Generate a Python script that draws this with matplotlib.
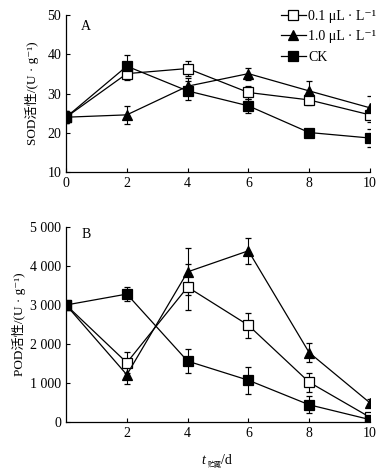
import matplotlib
matplotlib.use("Agg")
import matplotlib.pyplot as plt

plt.rcParams['font.family'] = ['Liberation Serif', 'Noto Sans CJK SC', 'DejaVu Serif']
plt.rcParams['font.size'] = 10

days = [0, 2, 4, 6, 8, 10]

# SOD activity (U/g)
sod_01 = [24.0, 35.1, 36.4, 30.3, 28.4, 24.6]
sod_01_err = [1.5, 1.5, 1.8, 1.7, 1.2, 1.8]
sod_10 = [24.0, 24.6, 31.9, 35.1, 30.7, 26.4]
sod_10_err = [1.5, 2.3, 2.0, 1.5, 2.4, 2.9]
sod_ck = [24.0, 37.0, 30.7, 26.9, 20.1, 18.7]
sod_ck_err = [1.5, 2.8, 2.4, 1.8, 1.0, 2.3]

# POD activity (U/g)
pod_01 = [3000, 1520, 3460, 2480, 1020, 120]
pod_01_err = [50, 270, 600, 320, 240, 50]
pod_10 = [3000, 1210, 3850, 4390, 1780, 490]
pod_10_err = [50, 230, 600, 340, 240, 110]
pod_ck = [3000, 3280, 1560, 1070, 440, 60]
pod_ck_err = [50, 190, 300, 350, 220, 40]

sod_ticks = [10, 20, 30, 40, 50]
pod_ticks = [0, 1000, 2000, 3000, 4000, 5000]
pod_tick_labels = ['0', '1 000', '2 000', '3 000', '4 000', '5 000']
labels = ['0.1 μL · L⁻¹', '1.0 μL · L⁻¹', 'CK']

styles = [
    dict(marker='s', mfc='white', mec='black', ms=7),
    dict(marker='^', mfc='black', mec='black', ms=6.5),
    dict(marker='s', mfc='black', mec='black', ms=7),
]

fig = plt.figure(figsize=(3.91, 4.73), dpi=100)
ax1 = fig.add_axes([0.169, 0.636, 0.777, 0.332])
ax2 = fig.add_axes([0.169, 0.108, 0.777, 0.412])


def draw(ax, series):
    handles = []
    for (vals, errs), lab, st in zip(series, labels, styles):
        eb = ax.errorbar(days, vals, yerr=errs, color='black', lw=0.9,
                         elinewidth=0.8, capsize=2.5, capthick=0.8,
                         label=lab, mew=0.9, **st)
        handles.append(eb[0])
    for s in ['top', 'right']:
        ax.spines[s].set_visible(False)
    for s in ['left', 'bottom']:
        ax.spines[s].set_linewidth(0.9)
    ax.tick_params(direction='in', length=3, width=0.8)
    return handles


h = draw(ax1, [(sod_01, sod_01_err), (sod_10, sod_10_err), (sod_ck, sod_ck_err)])
ax1.set_xlim(0, 10)
ax1.set_ylim(10, 50)
ax1.set_xticks(days)
ax1.set_yticks(sod_ticks)
ax1.set_ylabel('SOD活性/(U · g⁻¹)', fontsize=9.5, labelpad=6)
ax1.text(0.05, 0.93, 'A', transform=ax1.transAxes, fontsize=10, va='center')
ax1.legend(h, labels, loc='upper right', bbox_to_anchor=(1.04, 1.07), frameon=False,
           handlelength=1.8, handletextpad=0.2, labelspacing=0.55,
           fontsize=10, borderaxespad=0)

draw(ax2, [(pod_01, pod_01_err), (pod_10, pod_10_err), (pod_ck, pod_ck_err)])
ax2.set_xlim(0, 10)
ax2.set_ylim(0, 5000)
ax2.set_xticks(days[1:])
ax2.set_yticks(pod_ticks)
ax2.set_yticklabels(pod_tick_labels)
ax2.set_ylabel('POD活性/(U · g⁻¹)', fontsize=9.5, labelpad=3)
ax2.text(0.05, 0.96, 'B', transform=ax2.transAxes, fontsize=10, va='center')

# x label: italic t with small subscript
fig.text(0.516, 0.018, 't', fontsize=10, style='italic')
fig.text(0.532, 0.013, '贮藏', fontsize=5)
fig.text(0.566, 0.018, '/d', fontsize=10)

fig.savefig('out.png', dpi=100)
